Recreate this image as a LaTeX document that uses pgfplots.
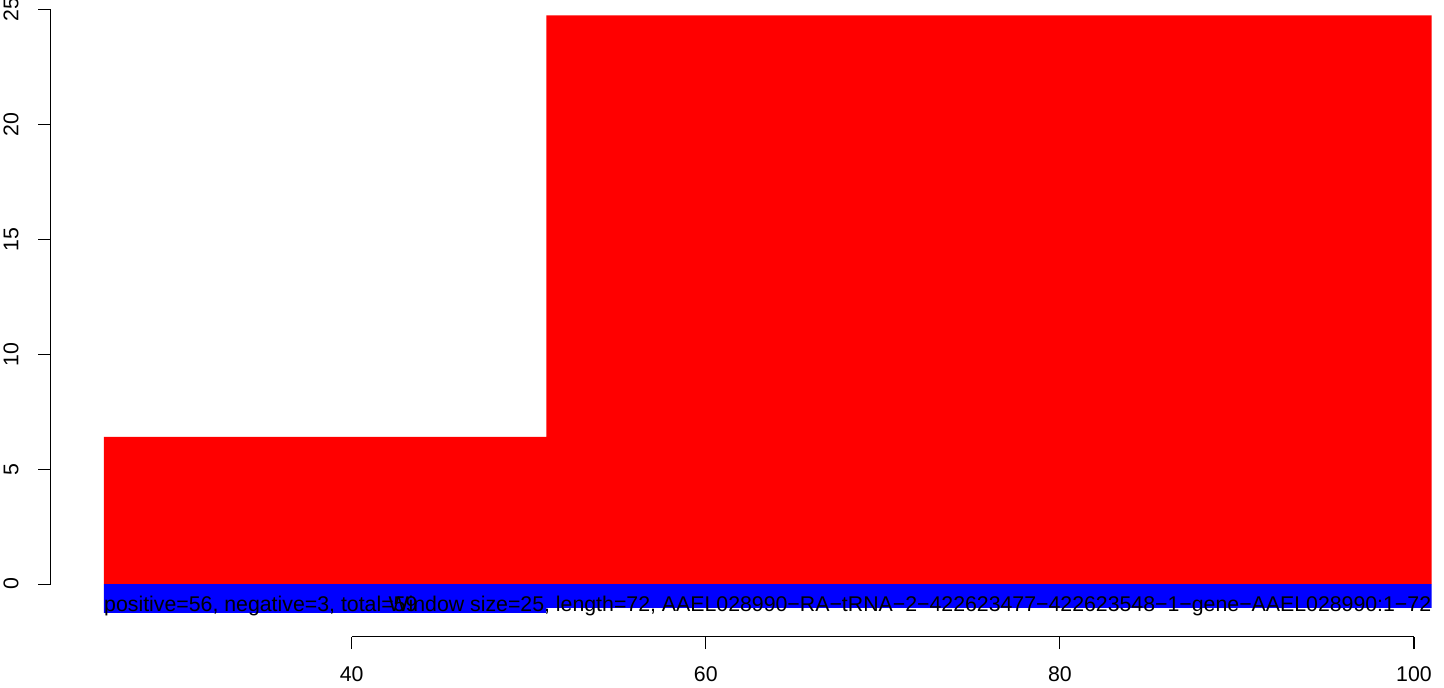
\documentclass[border=0pt]{standalone}
\usepackage{pgfplots}
\pgfplotsset{compat=1.18}
\usepackage{fontspec}
\setmainfont{Liberation Sans}
\definecolor{rred}{RGB}{255,0,0}
\definecolor{rblue}{RGB}{0,0,255}
\begin{document}
\begin{tikzpicture}
\useasboundingbox (-25.35pt,-25.15pt) rectangle (696.65pt,318.35pt);
\begin{axis}[
  at={(0,0)}, anchor=south west,
  scale only axis,
  width=690.5pt, height=313.7pt,
  xmin=23, xmax=101, ymin=-2.29, ymax=25,
  axis lines*=left,
  axis line style={draw=none},
  clip=false,
  xtick={40,60,80,100},
  ytick={0,5,10,15,20,25},
  tick align=outside,
  major tick length=6.15pt,
  tick style={black, line width=0.55pt},
  /pgf/number format/assume math mode=true,
  xticklabel style={font=\fontsize{10.65}{12}\selectfont, anchor=north, inner sep=0pt, yshift=-8.85pt},
  yticklabel style={font=\fontsize{10.65}{12}\selectfont, rotate=90, anchor=base, inner sep=0pt, yshift=10pt},
]
\addplot[ybar interval, fill=rred, draw=none] coordinates {(26,6.40) (51,24.74) (101,24.74)};
\addplot[ybar interval, fill=rblue, draw=none] coordinates {(26,-1.25) (51,-1.04) (101,-1.04)};
\draw[line width=0.55pt] (axis cs:40,-2.29) -- (axis cs:100,-2.29);
\draw[line width=0.55pt] (axis cs:23,0) -- (axis cs:23,25);
\node[anchor=base west, inner sep=0pt, font=\fontsize{10.65}{12}\selectfont] at (axis cs:26,-1.204) {positive=56, negative=3, total=59};
\node[anchor=base east, inner sep=0pt, font=\fontsize{10.65}{12}\selectfont] at (axis cs:101,-1.204) {Window size=25, length=72, AAEL028990−RA−tRNA−2−422623477−422623548−1−gene−AAEL028990:1−72};
\end{axis}
\end{tikzpicture}
\end{document}
